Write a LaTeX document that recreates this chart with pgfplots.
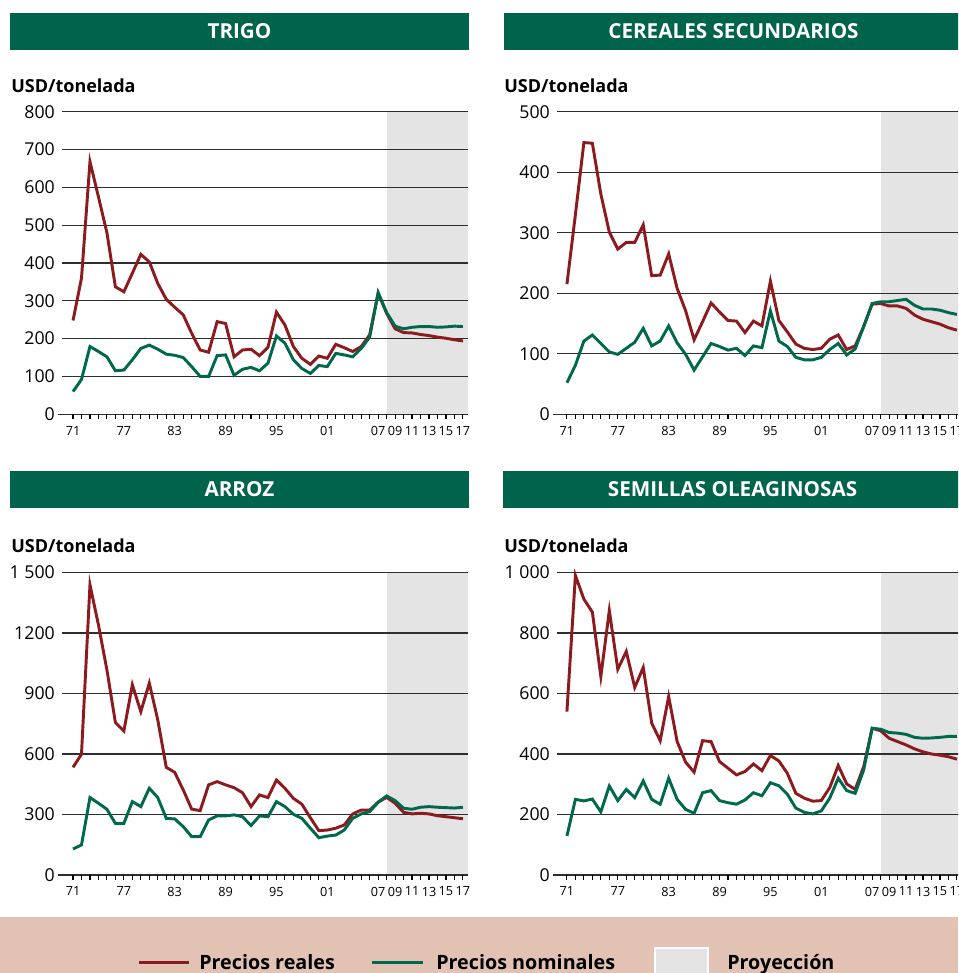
\documentclass[border=0pt]{standalone}
\usepackage{pgfplots}
\usepackage{pgfplotstable}
\pgfplotsset{compat=1.18}
\usepackage{fontspec}
\setmainfont{Open Sans}
\definecolor{titlegreen}{HTML}{00634B}
\definecolor{realred}{HTML}{8C1B1F}
\definecolor{nomgreen}{HTML}{00684D}
\definecolor{projgray}{HTML}{E3E4E3}
\definecolor{bandcol}{HTML}{E2C3B3}

\pgfplotstableread{
year real nom
1971 248 60
1972 360 92
1973 668 179
1974 575 166
1975 480 152
1976 337 115
1977 324 117
1978 373 144
1979 423 174
1980 403 183
1981 346 172
1982 304 159
1983 283 156
1984 263 150
1985 214 126
1986 170 100
1987 164 100
1988 245 155
1989 240 157
1990 152 103
1991 170 119
1992 172 124
1993 155 115
1994 177 135
1995 270 207
1996 236 188
1997 179 144
1998 148 121
1999 132 108
2000 154 129
2001 148 126
2002 185 161
2003 176 157
2004 166 152
2005 179 174
2006 210 204
2007 320 322
2008 267 269
2009 226 233
2010 216 226
2011 215 230
2012 211 232
2013 208 232
2014 204 230
2015 201 231
2016 197 233
2017 194 232
}\trigo

\pgfplotstableread{
year real nom
1971 215 52
1972 330 81
1973 449 121
1974 448 131
1975 364 117
1976 301 103
1977 273 99
1978 284 109
1979 284 119
1980 313 142
1981 229 113
1982 230 121
1983 265 146
1984 208 118
1985 171 99
1986 123 73
1987 153 95
1988 184 117
1989 169 112
1990 155 106
1991 154 109
1992 135 97
1993 154 113
1994 146 110
1995 220 171
1996 155 121
1997 136 112
1998 116 94
1999 109 90
2000 107 90
2001 109 94
2002 124 107
2003 131 117
2004 107 98
2005 113 108
2006 145 145
2007 182 183
2008 183 186
2009 179 186
2010 179 188
2011 175 190
2012 164 180
2013 157 174
2014 153 174
2015 149 172
2016 143 168
2017 139 165
}\cereales

\pgfplotstableread{
year real nom
1971 534 129
1972 599 149
1973 1439 384
1974 1240 356
1975 1017 326
1976 756 256
1977 714 256
1978 943 364
1979 810 339
1980 951 430
1981 769 384
1982 534 281
1983 509 278
1984 422 240
1985 327 190
1986 319 190
1987 447 273
1988 463 293
1989 447 293
1990 433 298
1991 408 289
1992 339 245
1993 397 293
1994 384 289
1995 471 364
1996 430 339
1997 380 301
1998 351 281
1999 284 232
2000 220 185
2001 223 193
2002 232 198
2003 248 223
2004 303 281
2005 322 303
2006 322 314
2007 361 361
2008 385 392
2009 356 369
2010 311 331
2011 303 326
2012 306 336
2013 303 339
2014 294 336
2015 289 334
2016 284 332
2017 279 336
}\arroz

\pgfplotstableread{
year real nom
1971 540 129
1972 990 250
1973 912 245
1974 869 251
1975 656 209
1976 874 294
1977 680 246
1978 739 283
1979 620 256
1980 686 311
1981 502 250
1982 444 234
1983 590 320
1984 441 250
1985 373 217
1986 340 204
1987 444 272
1988 441 279
1989 375 246
1990 353 239
1991 331 234
1992 342 248
1993 367 272
1994 345 262
1995 395 305
1996 377 295
1997 336 267
1998 270 221
1999 254 207
2000 244 202
2001 246 212
2002 289 254
2003 362 320
2004 301 279
2005 283 270
2006 358 347
2007 485 485
2008 477 482
2009 452 471
2010 441 469
2011 430 465
2012 417 455
2013 407 452
2014 400 453
2015 396 455
2016 391 458
2017 383 458
}\oleag

% 1 px = 0.75pt
\pgfplotsset{
  panel/.style={
    scale only axis,
    height=226.9pt,
    ymin=0, xmax=2017.6,
    enlargelimits=false, clip=false,
    axis line style={draw=none},
    axis background/.style={path picture={
      \fill[projgray] ([xshift=-61.05pt]path picture bounding box.south east)
        rectangle (path picture bounding box.north east);}},
    tick align=outside, tick pos=left,
    major tick length=3.4pt, minor tick length=3.4pt,
    xtick={1971,1977,1983,1989,1995,2001,2007,2009,2011,2013,2015,2017},
    xticklabels={71,77,83,89,95,01,07,09,11,13,15,17},
    minor xtick={1971,1972,...,2017},
    xtick style={black, line width=0.8pt},
    minor tick style={black, line width=0.8pt},
    ytick style={draw=none},
    ymajorgrids,
    major grid style={black!82, line width=0.8pt},
    xticklabel style={font=\fontsize{9.5}{11}\selectfont, inner sep=0pt, anchor=north, yshift=-5.3pt},
    yticklabel style={font=\fontsize{13.3}{15}\selectfont, inner sep=0pt, anchor=east, xshift=-1.8pt},
  },
  realline/.style={realred, line width=2.2pt},
  nomline/.style={nomgreen, line width=2.2pt},
}

\begin{document}
\begin{tikzpicture}
\begin{scope}
\clip (0,0) rectangle (718.5pt,-729.75pt);
\fill[white] (0,0) rectangle (718.5pt,-729.75pt);

% ---------- title bars ----------
\fill[titlegreen] (7.5pt,-9.75pt) rectangle (351.75pt,-37.5pt);
\fill[titlegreen] (378pt,-9.75pt) rectangle (722.25pt,-37.5pt);
\fill[titlegreen] (7.5pt,-353.25pt) rectangle (351.75pt,-381pt);
\fill[titlegreen] (377.25pt,-353.25pt) rectangle (721.5pt,-381pt);
\begin{scope}[every node/.style={text=white, font=\bfseries\fontsize{15.5}{18}\selectfont, inner sep=0pt}]
\node at (179.6pt,-23.6pt) {TRIGO};
\node at (550.1pt,-23.6pt) {CEREALES SECUNDARIOS};
\node at (179.6pt,-367.1pt) {ARROZ};
\node at (549.4pt,-367.1pt) {SEMILLAS OLEAGINOSAS};
\end{scope}
\begin{scope}[every node/.style={anchor=base west, font=\bfseries\fontsize{13.5}{16}\selectfont, inner sep=0pt}]
\node at (8.25pt,-69.4pt) {USD/tonelada};
\node at (378pt,-69.4pt) {USD/tonelada};
\node at (8.25pt,-414.4pt) {USD/tonelada};
\node at (378pt,-414.4pt) {USD/tonelada};
\end{scope}

% ---------- TRIGO ----------
\begin{axis}[panel, at={(46.5pt,-310.7pt)}, anchor=south west,
  width=304.5pt, xmin=1969.7, ymax=800,
  ytick={0,100,200,300,400,500,600,700,800},
  yticklabels={0,100,200,300,400,500,600,700,800}]
\addplot[realline] table[x=year,y=real] {\trigo};
\addplot[nomline] table[x=year,y=nom] {\trigo};
\end{axis}

% ---------- CEREALES SECUNDARIOS ----------
\begin{axis}[panel, at={(417.75pt,-310.7pt)}, anchor=south west,
  width=303.75pt, xmin=1969.83, ymax=500,
  ytick={0,100,200,300,400,500},
  yticklabels={0,100,200,300,400,500}]
\addplot[realline] table[x=year,y=real] {\cereales};
\addplot[nomline] table[x=year,y=nom] {\cereales};
\end{axis}

% ---------- ARROZ ----------
\begin{axis}[panel, at={(46.5pt,-656.25pt)}, anchor=south west,
  width=304.5pt, xmin=1969.7, ymax=1500,
  ytick={0,300,600,900,1200,1500},
  yticklabels={0,300,600,900,1200,1 500}]
\addplot[realline] table[x=year,y=real] {\arroz};
\addplot[nomline] table[x=year,y=nom] {\arroz};
\end{axis}

% ---------- SEMILLAS OLEAGINOSAS ----------
\begin{axis}[panel, at={(417.75pt,-656.25pt)}, anchor=south west,
  width=303.75pt, xmin=1969.83, ymax=1000,
  ytick={0,200,400,600,800,1000},
  yticklabels={0,200,400,600,800,1 000}]
\addplot[realline] table[x=year,y=real] {\oleag};
\addplot[nomline] table[x=year,y=nom] {\oleag};
\end{axis}

% axis-line overhang at the left of each zero line
\draw[black!82, line width=0.8pt] (43.5pt,-310.7pt) -- (46.5pt,-310.7pt);
\draw[black!82, line width=0.8pt] (414.75pt,-310.7pt) -- (417.75pt,-310.7pt);
\draw[black!82, line width=0.8pt] (43.5pt,-656.25pt) -- (46.5pt,-656.25pt);
\draw[black!82, line width=0.8pt] (414.75pt,-656.25pt) -- (417.75pt,-656.25pt);

% ---------- legend band ----------
\fill[bandcol] (0,-687.75pt) rectangle (718.5pt,-735pt);
\draw[realred, line width=2.2pt] (104.25pt,-721.6pt) -- (141.75pt,-721.6pt);
\draw[nomgreen, line width=2.2pt] (279pt,-721.6pt) -- (317.25pt,-721.6pt);
\fill[projgray] (491.25pt,-711pt) rectangle (531pt,-735pt);
\draw[white, line width=0.8pt] (491.25pt,-735pt) -- (491.25pt,-711pt) -- (531pt,-711pt) -- (531pt,-735pt);
\begin{scope}[every node/.style={anchor=base west, font=\bfseries\fontsize{14.8}{17}\selectfont, inner sep=0pt}]
\node at (149.25pt,-727pt) {Precios reales};
\node at (327pt,-727pt) {Precios nominales};
\node at (545.25pt,-727pt) {Proyección};
\end{scope}
\end{scope}
\pgfresetboundingbox
\path (0,0) rectangle (718.5pt,-729.75pt);
\end{tikzpicture}
\end{document}
